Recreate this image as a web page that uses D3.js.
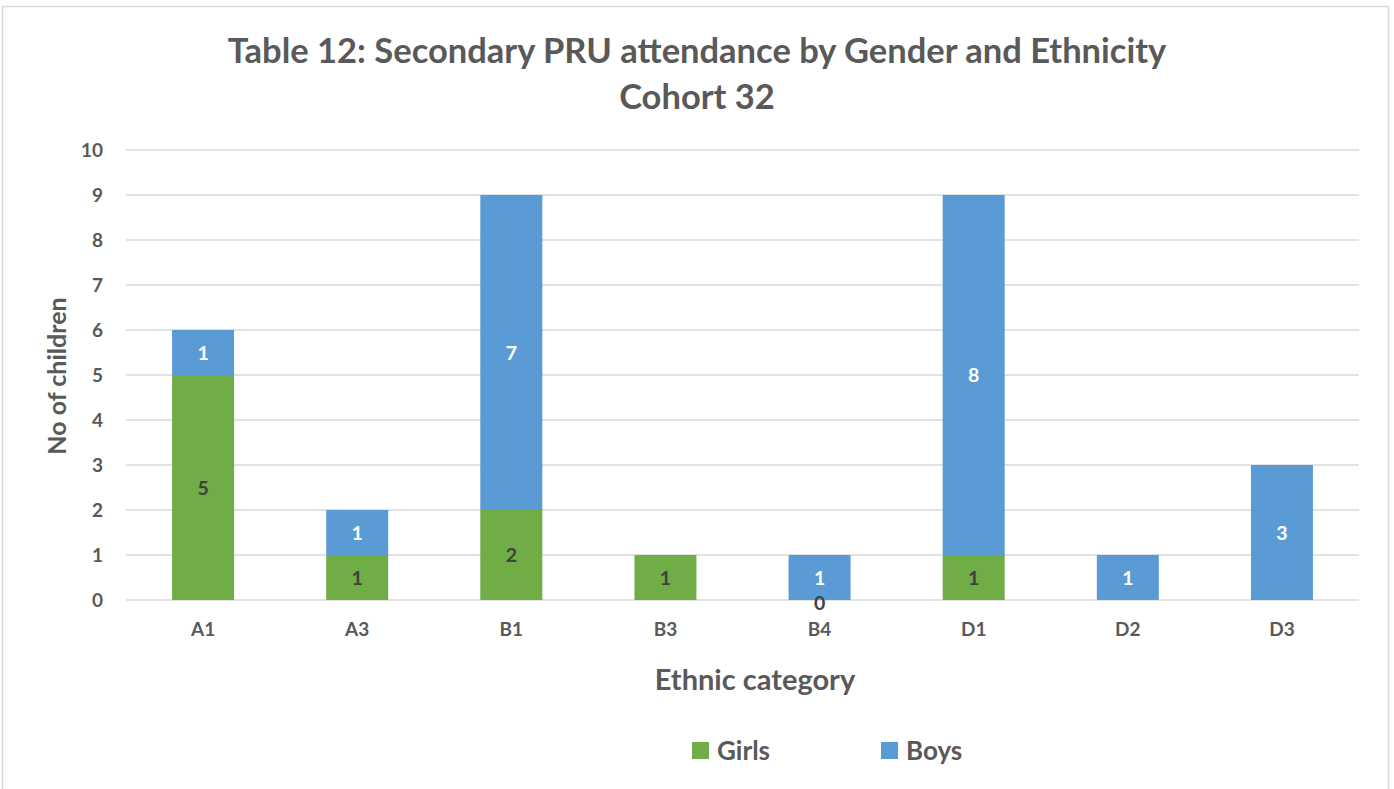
<!DOCTYPE html>
<html>
<head>
<meta charset="utf-8">
<script src="https://cdn.jsdelivr.net/npm/d3@7"></script>
<style>
  body { margin: 0; background: #fff; }
  text { font-family: Lato, "Open Sans", sans-serif; font-weight: bold; fill: #595959; }
</style>
</head>
<body>
<div id="plot"></div>
<script>
// chart values
var categories = ['A1', 'A3', 'B1', 'B3', 'B4', 'D1', 'D2', 'D3'];
var girls = [5, 1, 2, 1, 0, 1, null, null];
var boys = [1, 1, 7, null, 1, 8, 1, 3];
var yTicks = [0, 1, 2, 3, 4, 5, 6, 7, 8, 9, 10];
var seriesNames = ['Girls', 'Boys'];
var seriesColors = ['#70AD47', '#5B9BD5'];

var W = 1394, H = 789;
var margin = {t:150, r:35, b:189, l:126};
var width = W - margin.l - margin.r,
    height = H - margin.t - margin.b;

var svg = d3.select('#plot')
    .append('svg')
    .attr('width', W)
    .attr('height', H);

// outer chart border
svg.append('rect')
    .attr('x', 2.5).attr('y', 6.5)
    .attr('width', 1386).attr('height', 800)
    .style('fill', 'none')
    .style('stroke', '#D9D9D9')
    .style('stroke-width', 1.5);

// title
svg.append('text')
    .attr('x', 697).attr('y', 63)
    .attr('text-anchor', 'middle')
    .style('font-size', '34.5px')
    .text('Table 12: Secondary PRU attendance by Gender and Ethnicity');
svg.append('text')
    .attr('x', 697).attr('y', 109)
    .attr('text-anchor', 'middle')
    .style('font-size', '34.5px')
    .text('Cohort 32');

var plot = svg.append('g')
    .attr('transform', 'translate(' + margin.l + ',' + margin.t + ')');

var x = d3.scaleBand().domain(categories).range([0, width]);
var y = d3.scaleLinear().domain([0, 10]).range([height, 0]);

// gridlines
plot.selectAll('.grid')
    .data(yTicks)
    .enter()
    .append('line')
    .attr('x1', 0).attr('x2', width)
    .attr('y1', function(d){ return y(d); })
    .attr('y2', function(d){ return y(d); })
    .style('stroke', '#D9D9D9')
    .style('stroke-width', 1.5);

// y tick labels
var yAxis = d3.axisLeft(y).tickValues(yTicks).tickSize(0).tickPadding(23);
var gy = plot.append('g').call(yAxis);
gy.select('.domain').remove();
gy.selectAll('text').style('font-size', '19px').style('font-family', null).attr('fill', null);

// x tick labels
var xAxis = d3.axisBottom(x).tickSize(0).tickPadding(23);
var gx = plot.append('g').attr('transform', 'translate(0,' + height + ')').call(xAxis);
gx.select('.domain').remove();
gx.selectAll('text').style('font-size', '19px').style('font-family', null).attr('fill', null);

// stacked bars
var rows = categories.map(function(c, i){
    return {cat: c, Girls: girls[i], Boys: boys[i]};
});
var stack = d3.stack().keys(seriesNames).value(function(d, k){ return d[k] || 0; });
var layers = stack(rows);
var barW = 62;
var labels = [];

layers.forEach(function(layer, li){
    var key = layer.key;
    layer.forEach(function(seg, i){
        var v = rows[i][key];
        if (v === null) return;
        var cx = x(rows[i].cat) + x.bandwidth()/2;
        if (v > 0) {
            plot.append('rect')
                .attr('x', cx - barW/2)
                .attr('y', y(seg[1]))
                .attr('width', barW)
                .attr('height', y(seg[0]) - y(seg[1]))
                .style('fill', seriesColors[li]);
        }
        // zero-height segments get their label nudged just under the baseline
        var ly = (y(seg[0]) + y(seg[1]))/2 + 7;
        if (v === 0) ly += 3;
        labels.push({x: cx, y: ly, v: v, key: key});
    });
});

// data labels on top of all bars
labels.forEach(function(l){
    plot.append('text')
        .attr('x', l.x)
        .attr('y', l.y)
        .attr('text-anchor', 'middle')
        .style('font-size', '19.5px')
        .style('fill', l.key === 'Boys' ? '#FFFFFF' : '#404040')
        .text(l.v);
});

// axis titles
svg.append('text')
    .attr('x', 755).attr('y', 690)
    .attr('text-anchor', 'middle')
    .style('font-size', '29px')
    .text('Ethnic category');
svg.append('text')
    .attr('transform', 'translate(66,376) rotate(-90)')
    .attr('text-anchor', 'middle')
    .style('font-size', '25px')
    .text('No of children');

// legend
var legendX = [692, 881];
seriesNames.forEach(function(name, i){
    svg.append('rect')
        .attr('x', legendX[i]).attr('y', 742)
        .attr('width', 17).attr('height', 17)
        .style('fill', seriesColors[i]);
    svg.append('text')
        .attr('x', legendX[i] + 25).attr('y', 760)
        .style('font-size', '26px')
        .text(name);
});
</script>
</body>
</html>
